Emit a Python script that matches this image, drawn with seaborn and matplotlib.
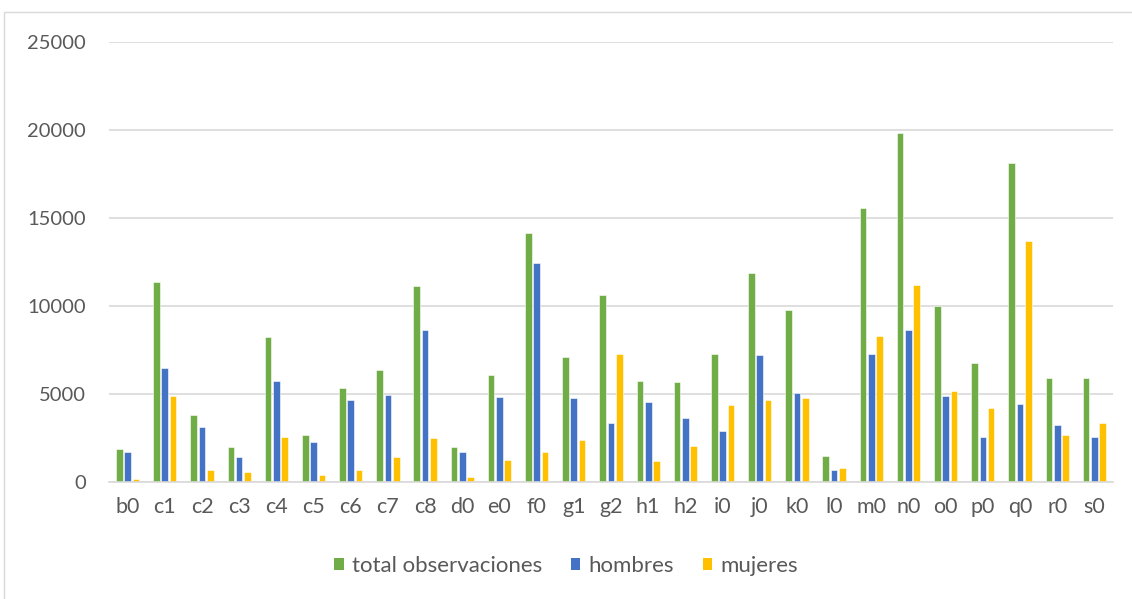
import matplotlib
matplotlib.use("Agg")
import matplotlib.pyplot as plt
from matplotlib.patches import Patch, Rectangle
import seaborn as sns
import pandas as pd

categories = ["b0", "c1", "c2", "c3", "c4", "c5", "c6", "c7", "c8", "d0", "e0", "f0", "g1", "g2",
              "h1", "h2", "i0", "j0", "k0", "l0", "m0", "n0", "o0", "p0", "q0", "r0", "s0"]
total_observaciones = [1860, 11360, 3810, 1970, 8240, 2670, 5320, 6360, 11120, 2010, 6060, 14150, 7120, 10630,
                       5740, 5680, 7270, 11880, 9790, 1480, 15570, 19830, 10020, 6740, 18110, 5890, 5890]
hombres = [1690, 6480, 3125, 1420, 5740, 2270, 4660, 4960, 8620, 1690, 4830, 12440, 4750, 3350,
           4550, 3640, 2900, 7220, 5060, 680, 7270, 8640, 4870, 2580, 4430, 3240, 2580]
mujeres = [170, 4890, 680, 550, 2540, 400, 680, 1420, 2480, 300, 1230, 1700, 2390, 7250,
           1190, 2060, 4390, 4660, 4750, 800, 8300, 11190, 5170, 4190, 13670, 2670, 3350]
series_names = ["total observaciones", "hombres", "mujeres"]
colors = ["#70AD47", "#4472C4", "#FFC000"]
yticks = [0, 5000, 10000, 15000, 20000, 25000]

df = pd.DataFrame({
    "categoria": categories * 3,
    "serie": [series_names[0]] * len(categories) + [series_names[1]] * len(categories)
             + [series_names[2]] * len(categories),
    "valor": total_observaciones + hombres + mujeres,
})

sns.set_theme(style="white")
plt.rcParams["font.family"] = ["Lato", "DejaVu Sans"]

fig = plt.figure(figsize=(11.32, 5.99), dpi=100)
ax = fig.add_axes([109 / 1132, 1 - 482 / 599, (1113 - 109) / 1132, (482 - 42) / 599])

sns.barplot(data=df, x="categoria", y="valor", hue="serie", order=categories,
            hue_order=series_names, palette=colors, width=0.67, gap=0.2,
            edgecolor="white", linewidth=0.4, saturation=1, errorbar=None,
            legend=False, ax=ax)

ax.set_ylim(0, 25000)
ax.set_xlim(-0.5, len(categories) - 0.5)
ax.set_yticks(yticks)
ax.set_yticklabels([str(t) for t in yticks])
ax.yaxis.grid(True, color="#D9D9D9", linewidth=1.2)
ax.set_axisbelow(True)
for side in ["left", "right", "top"]:
    ax.spines[side].set_visible(False)
ax.spines["bottom"].set_color("#D9D9D9")
ax.spines["bottom"].set_linewidth(1.2)
ax.tick_params(axis="both", length=0, colors="#595959")
ax.tick_params(axis="y", pad=16.5, labelsize=14.5)
ax.tick_params(axis="x", pad=10.5, labelsize=15.5)
ax.set_xlabel("")
ax.set_ylabel("")

handles = [Patch(facecolor=c, edgecolor="none") for c in colors]
fig.legend(handles, series_names, loc="center", bbox_to_anchor=(0.5, 1 - 566 / 599),
           ncol=3, frameon=False, fontsize=16, handlelength=0.42, handleheight=0.42,
           handletextpad=0.36, columnspacing=1.3, labelcolor="#595959")

fig.patches.append(Rectangle((4 / 1132, -0.02), 1.0, (599 - 12) / 599 + 0.02,
                             transform=fig.transFigure, fill=False,
                             edgecolor="#D9D9D9", linewidth=1))

fig.savefig("out.png", dpi=100)
